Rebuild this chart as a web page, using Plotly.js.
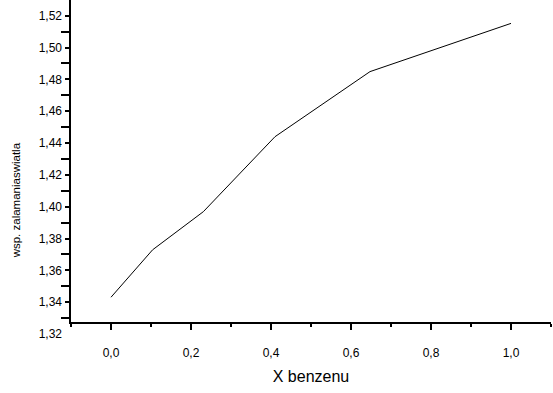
<!DOCTYPE html>
<html>
<head>
<meta charset="utf-8">
<script src="https://cdn.plot.ly/plotly-3.0.1.min.js"></script>
<style>html,body{margin:0;padding:0;background:#fff;}#chart{width:553px;height:393px;}</style>
</head>
<body>
<div id="chart"></div>
<script>
// data
const xBenzenu = [0.0, 0.104, 0.231, 0.41, 0.6475, 1.0];
const wspZalamania = [1.3431, 1.3729, 1.3969, 1.444, 1.4849, 1.5152];
const yTickVals = [1.32, 1.34, 1.36, 1.38, 1.40, 1.42, 1.44, 1.46, 1.48, 1.50, 1.52];
const xTickVals = [0.0, 0.2, 0.4, 0.6, 0.8, 1.0];
const xTitle = 'X benzenu';
const yTitle = 'wsp. zalamaniaswiatla';

const yLo = 1.32, yTop = 1.5299, yAxisBottom = 1.32782;
const font = 'Liberation Sans, Arial, sans-serif';

const traces = [
  {x: xBenzenu, y: wspZalamania, type: 'scatter', mode: 'lines',
   line: {color: '#000', width: 1}, xaxis: 'x', yaxis: 'y2', hoverinfo: 'none', showlegend: false},
  {x: [], y: [], type: 'scatter', mode: 'lines', xaxis: 'x', yaxis: 'y', showlegend: false}
];

const layout = {
  width: 553, height: 393,
  margin: {l: 71, r: 2, t: 0, b: 59},
  paper_bgcolor: '#fff', plot_bgcolor: '#fff',
  separators: ',.',
  font: {family: font, color: '#000', size: 12},
  showlegend: false,
  xaxis: {
    range: [-0.1, 1.1], anchor: 'y2',
    showline: true, linecolor: '#000', linewidth: 2,
    showgrid: false, zeroline: false,
    tickmode: 'array', tickvals: xTickVals, tickformat: '.1f',
    ticks: 'outside', ticklen: 6, tickwidth: 2, tickcolor: '#000',
    minor: {dtick: 0.1, tick0: 0, ticks: 'outside', ticklen: 3, tickwidth: 2, tickcolor: '#000', showgrid: false},
    ticklabelstandoff: 13,
    tickfont: {family: font, size: 12, color: '#000'},
    title: {text: xTitle, font: {family: font, size: 16, color: '#000'}, standoff: 12}
  },
  yaxis: {
    range: [yLo, yTop], domain: [0, 1], anchor: 'x',
    showline: false, showgrid: false, zeroline: false,
    tickmode: 'array', tickvals: yTickVals, tickformat: '.2f',
    ticks: '', ticklabelstandoff: 8,
    tickfont: {family: font, size: 12, color: '#000'}
  },
  yaxis2: {
    range: [yAxisBottom, yTop],
    domain: [(yAxisBottom - yLo) / (yTop - yLo), 1], anchor: 'x',
    showline: true, linecolor: '#000', linewidth: 2,
    showgrid: false, zeroline: false, showticklabels: false,
    tick0: 1.32, dtick: 0.02,
    ticks: 'outside', ticklen: 4, tickwidth: 2, tickcolor: '#000',
    minor: {dtick: 0.01, tick0: 1.32, ticks: 'outside', ticklen: 8, tickwidth: 2, tickcolor: '#000', showgrid: false}
  },
  annotations: [{
    text: yTitle, xref: 'paper', yref: 'paper',
    x: -0.114, y: 0.401, xanchor: 'center', yanchor: 'middle',
    textangle: -90, showarrow: false,
    font: {family: font, size: 11.5, color: '#000'}
  }]
};

Plotly.newPlot('chart', traces, layout, {staticPlot: true, displayModeBar: false});
</script>
</body>
</html>
